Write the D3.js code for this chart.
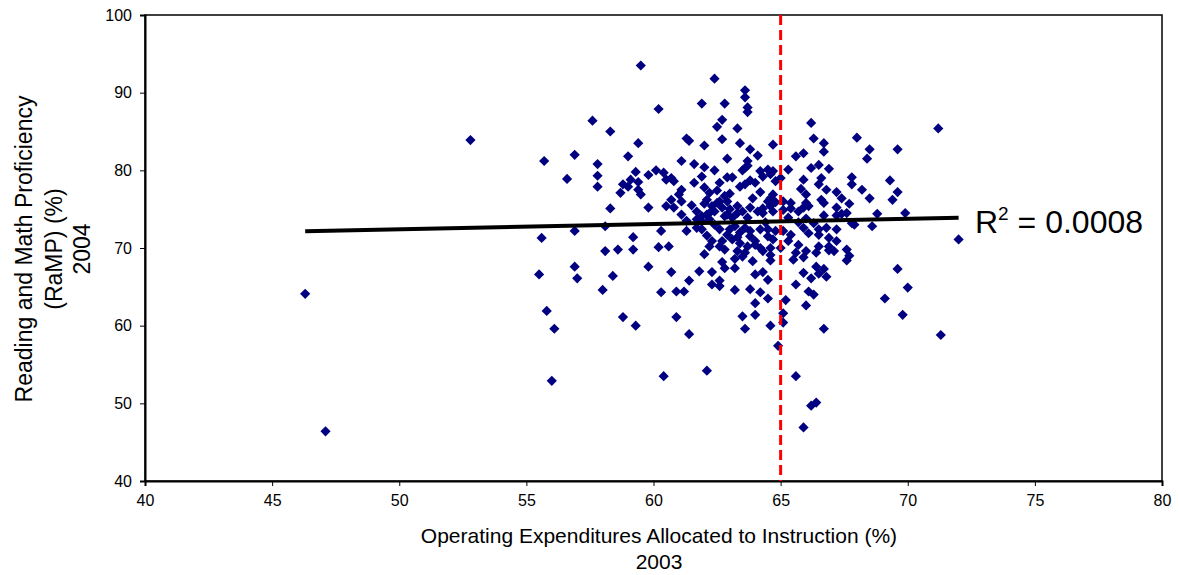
<!DOCTYPE html>
<html><head><meta charset="utf-8">
<script src="https://cdn.jsdelivr.net/npm/d3@7"></script>
<style>body{margin:0;background:#fff}svg{display:block;font-family:"Liberation Sans",Arial,sans-serif}</style>
</head><body><svg id="c" width="1179" height="575"></svg>
<script>
// Operating expenditures allocated to instruction (%) 2003
const expenditure = [46.3,47.1,52.8,
59.5,60.2,57.6,58.3,59.4,59.0,55.7,56.9,57.8,57.8,57.8,56.6,59.3,58.8,59.1,59.4,59.0,59.4,59.5,58.7,59.8,60.1,58.3,59.8,58.1,55.6,56.9,59.2,60.3,58.1,58.6,59.2,60.2,
55.5,56.9,57.0,58.4,59.8,58.0,60.3,55.8,56.1,58.8,59.3,56.0,60.4,
62.4,63.6,63.6,63.7,63.7,61.9,62.8,62.7,62.5,63.3,61.3,61.4,62.7,62.0,63.4,63.8,64.1,64.7,62.9,61.1,61.6,62.0,62.4,63.7,63.6,63.7,63.5,64.2,64.5,64.7,64.3,64.6,64.8,
60.4,60.7,60.8,60.5,61.9,61.6,62.9,63.1,63.4,63.6,63.8,64.0,61.1,61.0,61.1,60.7,60.8,60.5,61.1,62.2,62.5,62.8,62.9,62.6,62.1,62.0,62.3,62.7,62.4,61.7,61.9,61.7,61.9,62.1,62.2,
63.3,63.5,63.8,64.1,64.3,64.6,64.8,64.7,64.5,62.8,63.1,63.2,63.6,63.8,64.2,64.5,64.8,61.3,61.7,62.6,62.9,62.7,63.1,63.4,63.8,63.7,64.0,64.2,64.5,62.3,62.6,62.2,60.6,63.3,63.6,64.6,
63.5,63.2,62.7,62.8,63.2,64.6,60.7,61.8,62.3,61.4,62.6,62.3,62.6,60.9,61.2,63.2,64.0,64.3,64.5,63.8,64.2,64.0,64.5,60.9,63.5,64.0,63.6,64.6,61.4,64.9,62.1,
66.2,71.2,68.0,66.3,66.7,66.7,65.9,65.6,68.5,68.4,69.6,66.5,66.2,66.9,65.3,65.0,65.9,65.8,66.6,66.5,67.8,67.8,69.3,68.2,69.6,69.4,67.2,67.4,68.5,66.0,66.0,66.6,66.7,67.7,
65.1,65.1,65.4,65.7,65.9,67.2,68.8,69.9,66.7,67.2,67.4,66.0,67.9,68.6,67.2,72.0,65.4,65.9,66.1,66.5,66.8,65.1,65.3,65.7,66.5,66.9,67.2,67.6,65.0,66.0,66.4,65.6,
65.5,65.9,66.9,67.7,67.6,66.4,65.9,66.2,66.7,66.5,66.8,69.6,65.6,66.1,66.3,65.2,70.0,69.1,66.0,65.1,65.1,69.8,66.7,71.3,65.6,66.2,66.4,65.9,
62.6,62.5,64.6,62.2,62.9,63.3,64.3,64.7,61.9,63.0,63.4,64.0,64.7,64.6,62.8,66.8,65.4,66.1,67.6,67.8,66.5,66.9,67.1,
61.5,62.0,63.0,63.9,64.2,63.0,63.7,64.4,62.4,61.3,63.3,62.1,64.3,63.9,65.7,66.3,65.3,62.0];
// Reading and math proficiency (%) 2004
const proficiency = [64.1,46.4,83.9,
93.5,87.9,86.4,85.0,83.5,81.8,81.2,82.0,80.8,79.3,77.9,78.9,79.8,78.2,78.8,78.5,77.9,77.5,76.9,77.1,79.4,80.0,75.1,75.2,72.8,71.3,72.2,71.4,72.2,69.6,69.8,69.8,70.1,
66.6,67.6,66.1,66.4,67.6,64.6,64.3,61.9,59.6,61.1,60.0,52.9,53.5,
91.8,90.3,89.4,88.1,87.5,88.6,88.6,86.5,85.6,85.4,84.1,83.8,84.0,83.2,83.5,82.7,81.9,83.3,81.5,81.2,80.8,80.4,80.0,81.2,80.3,80.6,80.0,79.9,80.1,79.9,79.2,79.5,78.6,
79.7,79.0,78.6,78.8,79.2,78.4,79.1,79.1,77.9,78.2,78.7,78.4,77.5,76.9,76.0,76.2,75.2,75.4,74.3,77.1,77.4,76.7,76.0,76.0,76.2,75.7,75.4,75.2,74.7,74.7,74.1,73.7,73.4,74.3,73.7,
75.4,74.7,75.2,74.7,75.1,75.4,75.9,76.9,76.0,74.1,73.9,72.8,72.6,72.2,72.4,72.4,72.2,72.2,72.6,72.4,71.7,70.9,71.1,70.6,71.5,70.2,70.9,70.0,71.5,70.9,70.2,70.2,70.2,69.6,69.4,70.0,
68.9,68.6,68.2,67.4,67.4,68.4,66.9,67.0,66.9,65.8,65.8,65.3,65.1,64.4,64.4,64.6,66.6,66.9,65.9,64.7,64.3,62.9,63.5,61.1,61.2,61.4,59.6,60.0,58.9,57.4,54.2,
86.1,85.4,84.2,84.1,83.5,82.4,82.2,81.8,82.7,81.5,82.7,80.7,80.3,80.2,80.1,79.0,78.8,77.6,79.0,78.2,79.1,78.2,78.7,77.5,77.2,76.2,77.2,76.4,76.4,76.9,75.8,76.2,75.8,75.7,
76.0,74.9,75.1,74.7,75.2,75.2,74.4,74.5,74.2,74.2,74.4,73.8,73.0,72.8,72.4,71.1,71.7,72.6,71.9,71.7,72.6,72.2,70.9,70.4,70.2,70.2,70.9,69.8,70.0,69.6,69.4,69.4,
68.5,68.8,69.7,69.0,68.4,67.6,66.8,66.1,67.3,66.7,66.3,67.3,65.3,64.4,64.0,63.3,64.9,63.5,62.6,61.6,60.4,61.4,59.6,58.8,53.5,49.7,50.1,46.9,
78.4,75.8,76.4,74.5,74.3,74.5,74.5,74.7,72.4,72.4,72.0,70.4,71.1,69.1,69.8,77.5,75.8,75.4,74.5,73.2,72.4,71.3,69.6,
75.5,77.8,77.0,76.4,77.2,75.0,73.9,73.3,73.0,73.5,71.4,71.6,69.6,68.3,73.3,73.2,73.9,69.2];

const xTicks = [40,45,50,55,60,65,70,75,80];
const yTicks = [40,50,60,70,80,90,100];
const trendX = [46.3, 72.0];
const trendY = [72.15, 73.9];
const threshold = 65;
const rSquared = "0.0008";

const svg = d3.select("#c");
const L = 145, R = 1162, T = 15, B = 481;
const x = d3.scaleLinear().domain([40,80]).range([L,R]);
const y = d3.scaleLinear().domain([40,100]).range([B,T]);

// plot frame
svg.append("rect").attr("x",L).attr("y",T).attr("width",R-L).attr("height",B-T)
  .attr("fill","none").attr("stroke","#000").attr("stroke-width",1.5);

const xa = svg.append("g").attr("transform",`translate(0,${B})`)
  .call(d3.axisBottom(x).tickValues(xTicks).tickSize(5).tickPadding(9).tickFormat(d3.format("d")));
const ya = svg.append("g").attr("transform",`translate(${L},0)`)
  .call(d3.axisLeft(y).tickValues(yTicks).tickSize(5).tickPadding(8).tickFormat(d3.format("d")));
[xa,ya].forEach(a=>{
  a.select(".domain").attr("stroke","#000").attr("stroke-width",2);
  a.selectAll("line").attr("stroke","#000");
  a.selectAll("text").attr("font-size",16).attr("fill","#000").attr("font-family","Liberation Sans, Arial, sans-serif");
});

// points
const pts = expenditure.map((v,i)=>[v, proficiency[i]]);
const sym = d3.symbol(d3.symbolSquare, 52);
svg.append("g").selectAll("path").data(pts).join("path")
  .attr("d", sym)
  .attr("transform", d=>`translate(${x(d[0])},${y(d[1])}) rotate(45)`)
  .attr("fill","#000080");

// threshold line
svg.append("line").attr("x1",x(threshold)).attr("x2",x(threshold)).attr("y1",y(100)).attr("y2",y(40))
  .attr("stroke","#ff0000").attr("stroke-width",3).attr("stroke-dasharray","10,5");

// trend line
svg.append("line").attr("x1",x(trendX[0])).attr("y1",y(trendY[0])).attr("x2",x(trendX[1])).attr("y2",y(trendY[1]))
  .attr("stroke","#000").attr("stroke-width",4);

// R^2 label
const rt = svg.append("text").attr("x",975).attr("y",233).attr("font-size",32).attr("fill","#000");
rt.append("tspan").text("R");
rt.append("tspan").attr("font-size",19).attr("dy",-13).text("2");
rt.append("tspan").attr("dy",13).text(" = " + rSquared);

// axis titles
const xt = svg.append("text").attr("text-anchor","middle").attr("font-size",21).attr("fill","#000");
xt.append("tspan").attr("x",659).attr("y",543).text("Operating Expenditures Allocated to Instruction (%)");
xt.append("tspan").attr("x",659).attr("y",569).text("2003");
const yt = svg.append("text").attr("text-anchor","middle").attr("font-size",23).attr("fill","#000")
  .attr("transform","translate(0,249) rotate(-90)");
yt.append("tspan").attr("x",0).attr("y",32).text("Reading and Math Proficiency");
yt.append("tspan").attr("x",0).attr("y",62).text("(RaMP) (%)");
yt.append("tspan").attr("x",0).attr("y",90).text("2004");
</script></body></html>
